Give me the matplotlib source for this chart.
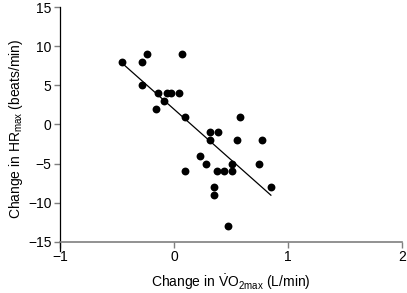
import numpy as np
import matplotlib
import matplotlib.pyplot as plt

matplotlib.use('Agg')

# Change in VO2max (L/min) and change in HRmax (beats/min)
vo2_change = [-0.46, -0.24, -0.28, 0.07, -0.28, -0.14, -0.06, -0.03, 0.04, -0.085,
              -0.16, 0.10, 0.58, 0.32, 0.39, 0.32, 0.55, 0.77, 0.23, 0.28,
              0.51, 0.75, 0.10, 0.38, 0.44, 0.51, 0.85, 0.35, 0.35, 0.47]
hr_change = [8, 9, 8, 9, 5, 4, 4, 4, 4, 3,
             2, 1, 1, -1, -1, -2, -2, -2, -4, -5,
             -5, -5, -6, -6, -6, -6, -8, -8, -9, -13]

x_ticks = [-1, 0, 1, 2]
y_ticks = [-15, -10, -5, 0, 5, 10, 15]

plt.rcParams['font.family'] = ['Liberation Sans', 'DejaVu Sans']
plt.rcParams['mathtext.fontset'] = 'custom'
plt.rcParams['mathtext.rm'] = 'Liberation Sans'
plt.rcParams['mathtext.it'] = 'Liberation Sans'

fig = plt.figure(figsize=(4.07, 2.93), dpi=100)
ax = fig.add_axes([0.1474, 0.1447, 0.8403, 0.8314])

ax.scatter(vo2_change, hr_change, s=32, color='black', zorder=3, linewidths=0)

# least squares fit line over the data range
x = np.array(vo2_change)
slope, intercept = np.polyfit(x, np.array(hr_change), 1)
xs = np.array([x.min(), x.max()])
ax.plot(xs, slope * xs + intercept, color='black', linewidth=0.9)

ax.set_xlim(-1, 2)
ax.set_ylim(-16.1, 15)
ax.set_xticks(x_ticks)
ax.set_yticks(y_ticks)
ax.set_xticklabels(['\u22121', '0', '1', '2'])
ax.set_yticklabels(['\u221215', '\u221210', '\u22125', '0', '5', '10', '15'])

ax.spines['top'].set_visible(False)
ax.spines['right'].set_visible(False)
ax.spines['bottom'].set_position(('data', -15))
ax.spines['bottom'].set_color('#7f7f7f')
ax.spines['bottom'].set_linewidth(1.2)
ax.spines['left'].set_linewidth(0.9)
ax.tick_params(axis='x', direction='out', length=4, width=1, color='#7f7f7f',
               labelsize=10, pad=2)
ax.tick_params(axis='y', direction='out', length=4, width=1, color='#7f7f7f',
               labelsize=10, pad=2)

ax.set_xlabel(r'Change in $\dot{\mathrm{V}}\mathrm{O}_{2\mathrm{max}}$ (L/min)', fontsize=10, labelpad=6)
ax.set_ylabel(r'Change in HR$_{\mathrm{max}}$ (beats/min)', fontsize=10, labelpad=2)

fig.savefig('out.png', dpi=100)
